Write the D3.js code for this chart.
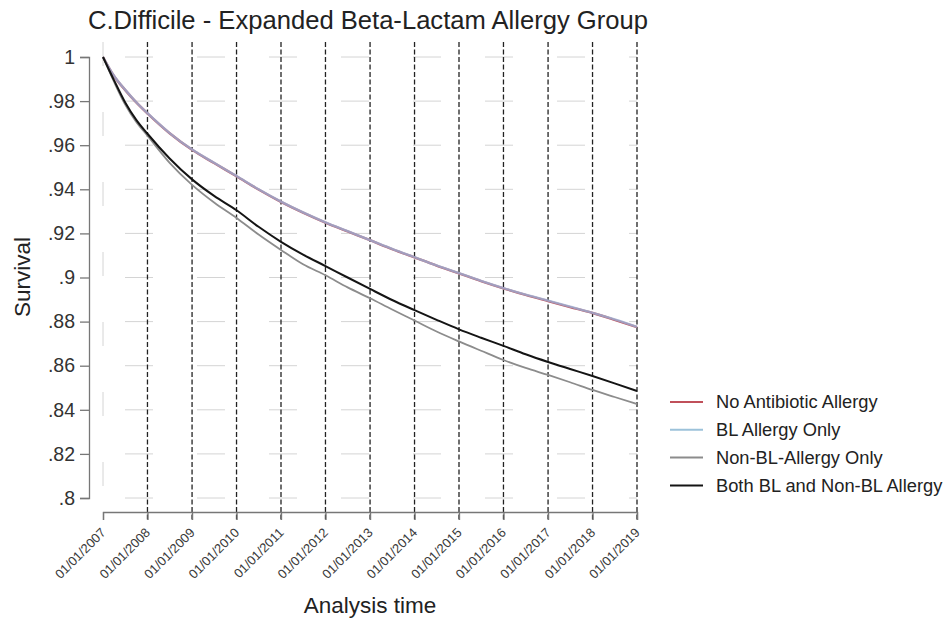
<!DOCTYPE html>
<html>
<head>
<meta charset="utf-8">
<script src="https://cdn.jsdelivr.net/npm/d3@7"></script>
<style>
  html, body { margin: 0; padding: 0; background: #fff; }
  svg { display: block; font-family: "Liberation Sans", Arial, sans-serif; }
</style>
</head>
<body>
<svg id="chart" width="948" height="622"></svg>
<script>
// Follow-up dates (quarterly in the first year, then half-yearly)
const timePoints = [
  "2007-01-01", "2007-04-01", "2007-07-01", "2007-10-01", "2008-01-01", "2008-07-01",
  "2009-01-01", "2009-07-01", "2010-01-01", "2010-07-01", "2011-01-01", "2011-07-01",
  "2012-01-01", "2012-07-01", "2013-01-01", "2013-07-01", "2014-01-01", "2014-07-01",
  "2015-01-01", "2015-07-01", "2016-01-01", "2016-07-01", "2017-01-01", "2017-07-01",
  "2018-01-01", "2018-07-01", "2019-01-01"
];

// Kaplan-Meier survival estimates per group
const noAllergy = [
  1, .9914, .9851, .9794, .9744, .9654, .9579, .9519, .9459, .9399, .9343, .9294,
  .9249, .9209, .9169, .9129, .9091, .9054, .9019, .8984, .8951, .8921, .8893, .8866,
  .8839, .8808, .8775
];
const blAllergyOnly = [
  1, .9915, .9852, .9795, .9745, .9655, .958, .952, .946, .940, .9344, .9295,
  .925, .921, .917, .913, .9092, .9055, .902, .8985, .8952, .8922, .8895, .8868,
  .884, .881, .8776
];
const nonBlAllergyOnly = [
  1, .9888, .9785, .9705, .9643, .952, .942, .934, .927, .9195, .9125, .906,
  .901, .8955, .8906, .8855, .8805, .8755, .871, .8668, .8626, .859, .8558, .8525,
  .849, .8458, .8426
];
const bothAllergies = [
  1, .9895, .9795, .9715, .9652, .954, .9445, .937, .9305, .923, .9162, .9104,
  .9052, .900, .8948, .8898, .8852, .8808, .8765, .8727, .869, .8652, .8617, .8585,
  .8553, .852, .8485
];

const yTicks = [1, .98, .96, .94, .92, .9, .88, .86, .84, .82, .8];
const yTickLabels = ["1", ".98", ".96", ".94", ".92", ".9", ".88", ".86", ".84", ".82", ".8"];
const yearTicks = d3.range(2007, 2020).map(y => new Date(y, 0, 1));

const seriesNames = ["No Antibiotic Allergy", "BL Allergy Only", "Non-BL-Allergy Only", "Both BL and Non-BL Allergy"];
const seriesColors = ["#c0505a", "#9cc2da", "#8c8c8c", "#141414"];

const parse = d3.timeParse("%Y-%m-%d");
const dates = timePoints.map(parse);
const fmt = d3.timeFormat("%d/%m/%Y");

const svg = d3.select("#chart");

const x = d3.scaleTime()
  .domain([new Date(2007, 0, 1), new Date(2019, 0, 1)])
  .range([103, 637]);
const y = d3.scaleLinear().domain([0.8, 1]).range([498, 57]);

const axisY = 89, axisX = 512, gridTop = 42;

// Faint horizontal grid at every y tick
svg.append("g").selectAll("line").data(yTicks).join("line")
  .attr("x1", x.range()[0]).attr("x2", x.range()[1])
  .attr("y1", d => y(d)).attr("y2", d => y(d))
  .attr("stroke", "#d4d4d4").attr("stroke-width", 1)
  .attr("stroke-dasharray", "28 44").attr("stroke-dashoffset", 50);

// Faint vertical guide at the start date
svg.append("line")
  .attr("x1", x(yearTicks[0])).attr("x2", x(yearTicks[0]))
  .attr("y1", gridTop).attr("y2", axisX)
  .attr("stroke", "#d4d4d4").attr("stroke-width", 1)
  .attr("stroke-dasharray", "24 46");

// Dashed year reference lines
svg.append("g").selectAll("line").data(yearTicks.slice(1)).join("line")
  .attr("x1", d => x(d)).attr("x2", d => x(d))
  .attr("y1", gridTop).attr("y2", axisX + 8)
  .attr("stroke", "#222").attr("stroke-width", 1.3)
  .attr("stroke-dasharray", "5 2.5");

// Y axis
const yAxis = d3.axisLeft(y).tickValues(yTicks)
  .tickFormat((d, i) => yTickLabels[i]).tickSizeOuter(0).tickSize(9).tickPadding(5);
const gy = svg.append("g").attr("transform", `translate(${axisY},0)`).call(yAxis);
gy.select(".domain").attr("stroke", "#777").attr("stroke-width", 1.3);
gy.selectAll(".tick line").attr("stroke", "#777").attr("stroke-width", 1.3);
gy.selectAll(".tick text").attr("fill", "#333").style("font-size", "19.5px")
  .style("font-family", "'Liberation Sans', Arial, sans-serif");

// X axis
const xAxis = d3.axisBottom(x).tickValues(yearTicks).tickFormat(fmt)
  .tickSizeOuter(0).tickSize(8);
const gx = svg.append("g").attr("transform", `translate(0,${axisX})`).call(xAxis);
gx.select(".domain").attr("stroke", "#777").attr("stroke-width", 1.3);
gx.selectAll(".tick line").attr("stroke", "#777").attr("stroke-width", 1.3);
gx.selectAll(".tick text")
  .attr("fill", "#3a3a3a")
  .style("font-size", "13px")
  .style("font-family", "'Liberation Sans', Arial, sans-serif")
  .attr("text-anchor", "end")
  .attr("dy", null)
  .attr("y", 0)
  .attr("transform", "translate(3,21.5) rotate(-45)");

// Survival curves
const line = d3.line()
  .x((d, i) => x(dates[i]))
  .y(d => y(d))
  .curve(d3.curveMonotoneX);

svg.append("path").datum(noAllergy).attr("d", line)
  .attr("fill", "none").attr("stroke", seriesColors[0]).attr("stroke-width", 2.4);
svg.append("path").datum(blAllergyOnly).attr("d", line)
  .attr("fill", "none").attr("stroke", "#9ab0d6").attr("stroke-width", 2.4)
  .attr("stroke-opacity", 0.8);
svg.append("path").datum(nonBlAllergyOnly).attr("d", line)
  .attr("fill", "none").attr("stroke", seriesColors[2]).attr("stroke-width", 1.8);
svg.append("path").datum(bothAllergies).attr("d", line)
  .attr("fill", "none").attr("stroke", seriesColors[3]).attr("stroke-width", 2);

// Title and axis titles
svg.append("text").attr("x", 368).attr("y", 29).attr("text-anchor", "middle")
  .attr("fill", "#222").style("font-size", "25.6px")
  .text("C.Difficile - Expanded Beta-Lactam Allergy Group");
svg.append("text").attr("transform", "translate(30,277) rotate(-90)")
  .attr("text-anchor", "middle").attr("fill", "#222").style("font-size", "22.5px")
  .text("Survival");
svg.append("text").attr("x", 370).attr("y", 613).attr("text-anchor", "middle")
  .attr("fill", "#222").style("font-size", "22.5px")
  .text("Analysis time");

// Legend
const legend = svg.append("g").attr("transform", "translate(670,402)");
const rows = legend.selectAll("g").data(seriesNames).join("g")
  .attr("transform", (d, i) => `translate(0,${i * 27.8})`);
rows.append("line").attr("x1", 0).attr("x2", 33).attr("y1", 0).attr("y2", 0)
  .attr("stroke", (d, i) => seriesColors[i]).attr("stroke-width", 2);
rows.append("text").attr("x", 46).attr("y", 0).attr("dy", "0.35em")
  .attr("fill", "#222").style("font-size", "18.3px").text(d => d);
</script>
</body>
</html>
